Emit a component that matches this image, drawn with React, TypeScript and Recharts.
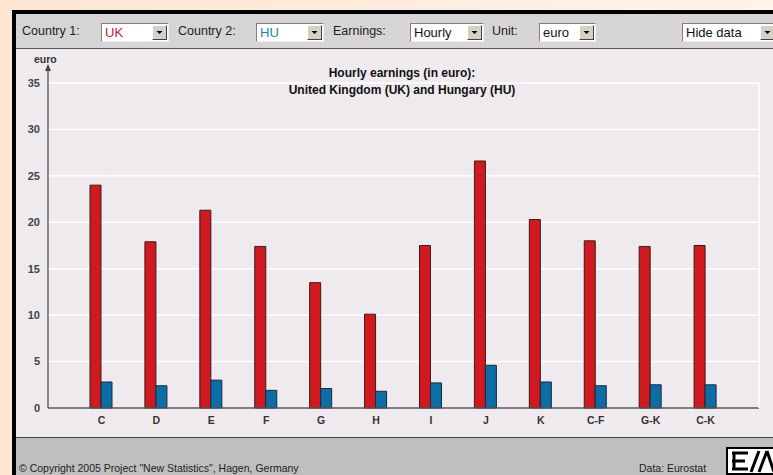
import React from "react";
import { BarChart, Bar, XAxis, YAxis, CartesianGrid } from "recharts";

const categories = ["C", "D", "E", "F", "G", "H", "I", "J", "K", "C-F", "G-K", "C-K"];
const ukValues = [24.0, 17.9, 21.3, 17.4, 13.5, 10.1, 17.5, 26.6, 20.3, 18.0, 17.4, 17.5];
const huValues = [2.8, 2.4, 3.0, 1.9, 2.1, 1.8, 2.7, 4.6, 2.8, 2.4, 2.5, 2.5];
const yTicks = [0, 5, 10, 15, 20, 25, 30, 35];

const data = categories.map((c, i) => ({ cat: c, UK: ukValues[i], HU: huValues[i] }));

const FONT = "'Liberation Sans', Arial, sans-serif";

function Select({ x, w, text, color }: { x: number; w: number; text: string; color: string }) {
  return (
    <div
      style={{
        position: "absolute",
        left: x,
        top: 23,
        width: w,
        height: 19,
        background: "#fff",
        borderTop: "1px solid #808080",
        borderLeft: "1px solid #808080",
        borderRight: "1px solid #eee",
        borderBottom: "1px solid #eee",
        boxSizing: "border-box",
      }}
    >
      <span style={{ position: "absolute", left: 3, top: 1, fontSize: 13, color, fontFamily: FONT }}>{text}</span>
      <div
        style={{
          position: "absolute",
          right: 1,
          top: 1,
          width: 15,
          height: 15,
          background: "#d4d0c8",
          borderTop: "1px solid #fff",
          borderLeft: "1px solid #fff",
          borderRight: "1px solid #404040",
          borderBottom: "1px solid #404040",
          boxSizing: "border-box",
        }}
      >
        <svg width={13} height={13} style={{ position: "absolute", left: 0, top: 0 }}>
          <polygon points="3.5,5 9.5,5 6.5,8" fill="#000" />
        </svg>
      </div>
    </div>
  );
}

function Label({ x, text }: { x: number; text: string }) {
  return (
    <span style={{ position: "absolute", left: x, top: 24, fontSize: 12.5, color: "#222", fontFamily: FONT }}>{text}</span>
  );
}

export default function App() {
  return (
    <div
      style={{
        position: "relative",
        width: 773,
        height: 475,
        overflow: "hidden",
        background: "linear-gradient(90deg, #fde6d2, #fff3ea)",
        fontFamily: FONT,
      }}
    >
      <style>{`body{margin:0}`}</style>
      {/* black frame */}
      <div style={{ position: "absolute", left: 12, top: 10, width: 761, height: 465, background: "#000" }} />
      {/* toolbar */}
      <div
        style={{
          position: "absolute",
          left: 16,
          top: 14,
          width: 757,
          height: 34,
          background: "#d6d4d4",
          borderBottom: "1px solid #555",
        }}
      />
      <Label x={22} text="Country 1:" />
      <Select x={101} w={68} text="UK" color="#c8202c" />
      <Label x={178} text="Country 2:" />
      <Select x={256} w={68} text="HU" color="#1a86b8" />
      <Label x={333} text="Earnings:" />
      <Select x={410} w={74} text="Hourly" color="#111" />
      <Label x={492} text="Unit:" />
      <Select x={539} w={57} text="euro" color="#111" />
      <Select x={682} w={95} text="Hide data" color="#111" />

      {/* chart area */}
      <div style={{ position: "absolute", left: 16, top: 49, width: 757, height: 388, background: "#eeeaee" }} />

      {/* footer */}
      <div
        style={{
          position: "absolute",
          left: 16,
          top: 437,
          width: 757,
          height: 38,
          background: "#bfbfbf",
          borderTop: "1px solid #444",
        }}
      />
      <span style={{ position: "absolute", left: 19, top: 462, fontSize: 10.5, color: "#222", fontFamily: FONT }}>
        © Copyright 2005 Project "New Statistics", Hagen, Germany
      </span>
      <span style={{ position: "absolute", left: 639, top: 462, fontSize: 10.5, color: "#222", fontFamily: FONT }}>
        Data: Eurostat
      </span>
      <svg width={48} height={28} style={{ position: "absolute", left: 726, top: 447 }}>
        <rect x={0} y={0} width={48} height={28} fill="#000" />
        <rect x={2} y={2} width={46} height={24} fill="#fff" />
        <path d="M6 6 H22 M6 14 H19 M6 22 H22 M8 6 V22" stroke="#000" strokeWidth={3} fill="none" />
        <path d="M25 25 L33 4 M33 25 L41 4 M41 4 L48 25" stroke="#000" strokeWidth={3} fill="none" />
      </svg>

      {/* titles */}
      <div
        style={{
          position: "absolute",
          left: 0,
          width: 804,
          top: 65,
          textAlign: "center",
          fontSize: 12,
          fontWeight: "bold",
          color: "#111",
          lineHeight: "17px",
        }}
      >
        Hourly earnings (in euro):
        <br />
        United Kingdom (UK) and Hungary (HU)
      </div>

      <div style={{ position: "absolute", left: 0, top: 0 }}>
        <BarChart
          width={773}
          height={475}
          data={data}
          margin={{ top: 83, right: 14, bottom: 37, left: 0 }}
          barGap={0}
          barCategoryGap={0}
        >
          <CartesianGrid horizontal={true} vertical={false} stroke="#ffffff" strokeWidth={1.5} />
          <XAxis
            dataKey="cat"
            height={30}
            padding={{ left: 26, right: 26 }}
            axisLine={{ stroke: "#555", strokeWidth: 1.5 }}
            tickLine={false}
            tick={{ fill: "#333", fontSize: 10.5, fontWeight: "bold", fontFamily: FONT }}
            tickMargin={3}
            interval={0}
          />
          <YAxis
            domain={[0, 35]}
            ticks={yTicks}
            width={48}
            axisLine={false}
            tickLine={false}
            tick={{ fill: "#444", fontSize: 11, fontWeight: "bold", fontFamily: FONT }}
            tickMargin={2}
          />
          <Bar dataKey="UK" fill="#d11a1f" stroke="#3a1a1a" strokeWidth={1} barSize={11} isAnimationActive={false} />
          <Bar dataKey="HU" fill="#0b6ea7" stroke="#1a2a3a" strokeWidth={1} barSize={11} isAnimationActive={false} />
        </BarChart>
      </div>

      {/* y axis line with arrow */}
      <svg width={773} height={475} style={{ position: "absolute", left: 0, top: 0, pointerEvents: "none" }}>
        <line x1={48} y1={68} x2={48} y2={408} stroke="#444" strokeWidth={1.2} />
        <polygon points="48,64 45,71 51,71" fill="#444" />
        <line x1={759} y1={83} x2={759} y2={408} stroke="#fff" strokeWidth={1.5} />
      </svg>
      <span style={{ position: "absolute", left: 34, top: 53, fontSize: 10.5, fontWeight: "bold", color: "#333" }}>euro</span>
    </div>
  );
}
